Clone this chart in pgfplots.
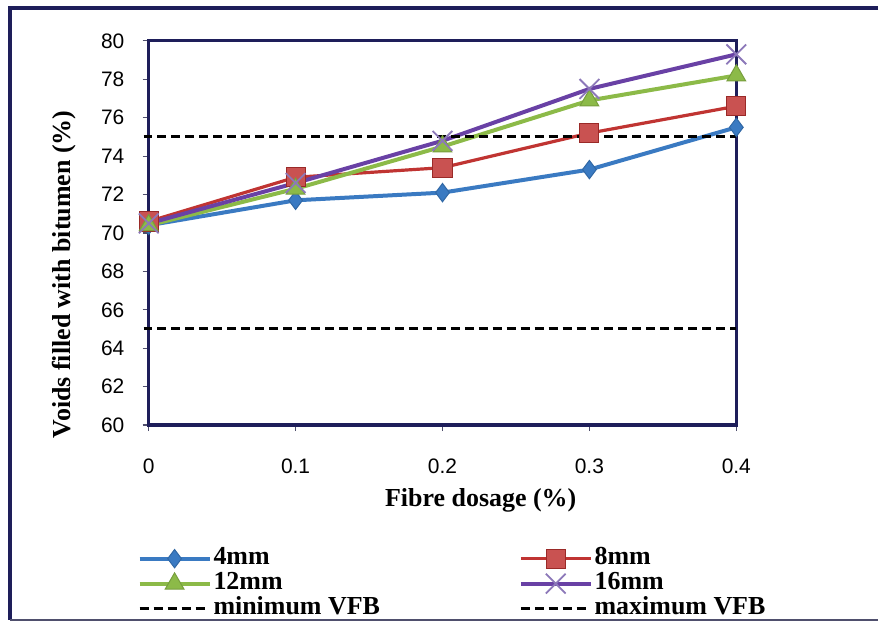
\documentclass[border=0pt]{standalone}
\usepackage{fontspec}
\setmainfont{Liberation Serif}
\newfontfamily\tickfont{Liberation Sans}
\usepackage{pgfplots}
\pgfplotsset{compat=1.18}
\definecolor{navy}{RGB}{30,30,90}
\definecolor{cblue}{RGB}{58,122,194}
\definecolor{cred}{RGB}{192,52,50}
\definecolor{cgreen}{RGB}{140,186,72}
\definecolor{cpurple}{RGB}{105,65,165}
\definecolor{cpurplelight}{RGB}{140,120,185}
\begin{document}
\begin{tikzpicture}[x=1pt,y=1pt]
\fill[white] (0,0) rectangle (440,312);
\draw[navy, line width=2pt] (440,308) -- (5,308) -- (5,1.5);
\draw[navy!50!gray, line width=1pt] (5,1.5) -- (440,1.5);
\begin{axis}[
  at={(74.5pt,99pt)}, anchor=south west,
  scale only axis, width=294.5pt, height=192.5pt,
  xmin=0, xmax=0.4, ymin=60, ymax=80,
  xtick={0,0.1,0.2,0.3,0.4}, xticklabels={0,0.1,0.2,0.3,0.4},
  ytick={60,62,64,66,68,70,72,74,76,78,80},
  yticklabels={60,62,64,66,68,70,72,74,76,78,80},
  tick pos=left, tick align=outside, major tick length=3pt,
  axis line style={navy, line width=1.6pt},
  tick style={color=navy!50!gray, line width=0.6pt},
  ticklabel style={font=\tickfont\fontsize{10.5}{12}\selectfont, inner sep=0pt},
  yticklabel style={xshift=-9pt},
  xticklabel style={yshift=-14pt},
  clip=false,
  xlabel={Fibre dosage (\%)},
  ylabel={Voids filled with bitumen (\%)},
  label style={font=\fontsize{13}{15}\selectfont\bfseries},
  xlabel style={at={(axis description cs:0.565,-0.195)}, anchor=center},
  ylabel style={at={(axis description cs:-0.143,0.392)}, anchor=center},
  legend columns=2,
  legend image code/.code={
    \path[use as bounding box, draw=none, fill=none] (0pt,-2pt) rectangle (35pt,8pt);
    \draw[mark repeat=2,mark phase=2,#1] plot coordinates {(0pt,0pt) (17.5pt,0pt) (35pt,0pt)};
  },
  legend style={draw=none, fill=none, inner sep=0pt, outer sep=0pt,
    at={(axis description cs:-0.0153,-0.3064)}, anchor=north west,
    font=\fontsize{13}{15}\selectfont\bfseries,
    nodes={inner sep=0pt, outer sep=0pt, text height=9pt, text depth=3pt},
    column sep=0pt, row sep=-1.5pt,
    /tikz/every odd column/.append style={column sep=2pt}},
  legend cell align=left,
]
\addplot[cblue, line width=2pt, mark=diamond*, mark size=4.6pt,
  mark options={solid, fill=cblue, draw=cblue!85!black, line width=0.5pt}]
  coordinates {(0,70.4) (0.1,71.7) (0.2,72.1) (0.3,73.3) (0.4,75.5)};
\addlegendentry{\makebox[154pt][l]{4mm}}
\addplot[cred, line width=1.6pt, mark=square*, mark size=4.8pt,
  mark options={solid, fill=cred!85!white, draw=cred!80!black, line width=0.5pt}]
  coordinates {(0,70.6) (0.1,72.9) (0.2,73.4) (0.3,75.2) (0.4,76.6)};
\addlegendentry{8mm}
\addplot[cgreen, line width=2pt, mark=triangle*, mark size=5.4pt,
  mark options={solid, fill=cgreen, draw=cgreen!85!black, line width=0.5pt}]
  coordinates {(0,70.4) (0.1,72.3) (0.2,74.5) (0.3,76.9) (0.4,78.2)};
\addlegendentry{\makebox[154pt][l]{12mm}}
\addplot[cpurple, line width=2pt, mark=x, mark size=7pt,
  mark options={solid, draw=cpurplelight, line width=0.9pt}]
  coordinates {(0,70.5) (0.1,72.6) (0.2,74.8) (0.3,77.5) (0.4,79.3)};
\addlegendentry{16mm}
\addplot[black, line width=1.5pt, dash pattern=on 4.5pt off 2.5pt, mark=none]
  coordinates {(-0.0035,65) (0.4,65)};
\addlegendentry{\makebox[154pt][l]{minimum VFB}}
\addplot[black, line width=1.5pt, dash pattern=on 4.5pt off 2.5pt, mark=none]
  coordinates {(-0.0035,75) (0.4,75)};
\addlegendentry{maximum VFB}
\end{axis}
\end{tikzpicture}
\end{document}
